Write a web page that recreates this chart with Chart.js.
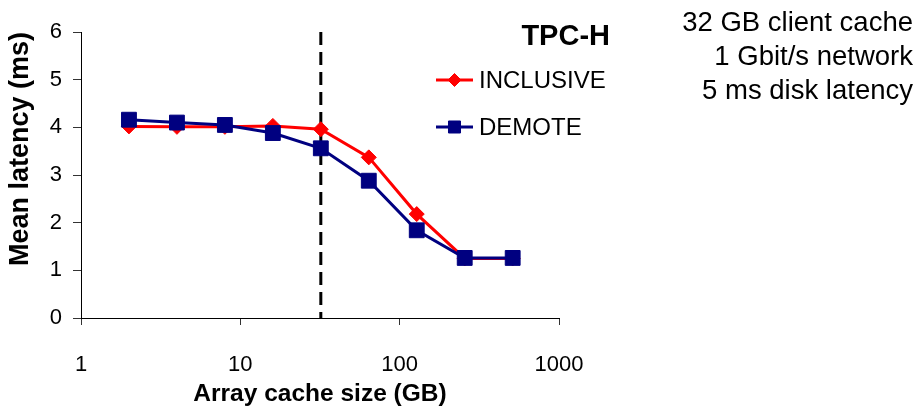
<!DOCTYPE html>
<html lang="en">
<head>
  <meta charset="UTF-8">
  <title>TPC-H mean latency</title>
  <script src="https://cdn.jsdelivr.net/npm/chart.js"></script>
  <style>
      html, body { margin: 0; padding: 0; background: #fff; }
      #wrap { width: 921px; height: 406px; }
  </style>
</head>
<body>
  <div id="wrap"><canvas id="myChart" width="921" height="406"></canvas></div>

  <script>
    // Array cache sizes (GB) and mean latency (ms)
    const cacheSizes = [2, 4, 8, 16, 32, 64, 128, 256, 512];
    const inclusive = [4.02, 4.01, 4.01, 4.03, 3.96, 3.37, 2.18, 1.25, 1.25];
    const demote = [4.16, 4.1, 4.05, 3.88, 3.56, 2.88, 1.84, 1.26, 1.26];

    const xTickValues = [1, 10, 100, 1000];
    const yTickValues = [0, 1, 2, 3, 4, 5, 6];
    const clientCacheGB = 32;   // dashed marker
    const chartTitle = 'TPC-H';
    const noteLines = ['32 GB client cache', '1 Gbit/s network', '5 ms disk latency'];

    const FONT = '"Liberation Sans", Arial, sans-serif';
    Chart.defaults.font.family = FONT;
    Chart.defaults.color = '#000';

    const series = [
      { label: 'INCLUSIVE', data: inclusive, color: '#ff0000', style: 'rectRot', radius: 7.5, order: 1 },
      { label: 'DEMOTE', data: demote, color: '#000080', style: 'rect', radius: 10.5, order: 0 }
    ];

    // dashed vertical line at the client cache size
    const dashLine = {
      id: 'dashLine',
      beforeDatasetsDraw(chart) {
        const { ctx, chartArea, scales } = chart;
        const x = scales.x.getPixelForValue(clientCacheGB);
        ctx.save();
        ctx.strokeStyle = '#000';
        ctx.lineWidth = 3;
        ctx.setLineDash([13, 7]);
        ctx.beginPath();
        ctx.moveTo(x, chartArea.top);
        ctx.lineTo(x, chartArea.bottom);
        ctx.stroke();
        ctx.restore();
      }
    };

    // legend box + notes on the right
    const legendNotes = {
      id: 'legendNotes',
      afterDraw(chart) {
        const ctx = chart.ctx;
        ctx.save();
        ctx.fillStyle = '#000';
        ctx.textBaseline = 'middle';
        ctx.font = 'bold 29px ' + FONT;
        ctx.textAlign = 'right';
        ctx.fillText(chartTitle, 610, 37);

        ctx.font = '24px ' + FONT;
        ctx.textAlign = 'left';
        series.forEach((s, i) => {
          const y = 80 + i * 47;
          ctx.strokeStyle = s.color;
          ctx.lineWidth = 3;
          ctx.beginPath();
          ctx.moveTo(436, y);
          ctx.lineTo(473, y);
          ctx.stroke();
          ctx.fillStyle = s.color;
          ctx.strokeStyle = s.color;
          ctx.lineWidth = 1;
          Chart.helpers.drawPoint(ctx, { pointStyle: s.style, radius: s.style === 'rect' ? 8.5 : 6.5, borderWidth: 1 }, 454.5, y);
          ctx.fillStyle = '#000';
          ctx.fillText(s.label, 479, y + 1);
        });

        ctx.font = '27.5px ' + FONT;
        ctx.textAlign = 'right';
        noteLines.forEach((t, i) => ctx.fillText(t, 913, 23 + i * 34));
        ctx.restore();
      }
    };

    const ctx = document.getElementById('myChart').getContext('2d');
    const myChart = new Chart(ctx, {
      type: 'line',
      data: {
        datasets: series.map(s => ({
          label: s.label,
          data: cacheSizes.map((x, i) => ({ x: x, y: s.data[i] })),
          borderColor: s.color,
          backgroundColor: s.color,
          borderWidth: 3,
          pointStyle: s.style,
          pointRadius: s.radius,
          pointBorderWidth: 1,
          pointBackgroundColor: s.color,
          pointBorderColor: s.color,
          tension: 0,
          order: s.order
        }))
      },
      plugins: [dashLine, legendNotes],
      options: {
        responsive: false,
        animation: false,
        layout: { padding: { left: 0, top: 32, right: 362, bottom: 0 } },
        plugins: {
          legend: { display: false },
          tooltip: { enabled: false }
        },
        scales: {
          x: {
            type: 'logarithmic',
            min: 1,
            max: 1000,
            afterBuildTicks: scale => { scale.ticks = xTickValues.map(v => ({ value: v })); },
            afterFit: scale => { scale.height = 88; },
            border: { display: true, color: '#000', width: 1 },
            grid: { drawOnChartArea: false, drawTicks: true, tickLength: 7, color: '#333' },
            ticks: { padding: 27, font: { size: 22 }, color: '#000', maxRotation: 0, callback: v => String(v) },
            title: { display: true, text: 'Array cache size (GB)', font: { size: 24.5, weight: 'bold', lineHeight: 1 }, padding: { top: 0, bottom: 0 } }
          },
          y: {
            min: 0,
            max: 6,
            afterBuildTicks: scale => { scale.ticks = yTickValues.map(v => ({ value: v })); },
            afterFit: scale => { scale.width = 81; },
            border: { display: true, color: '#000', width: 1 },
            grid: { drawOnChartArea: false, drawTicks: true, tickLength: 8, color: '#333' },
            ticks: { padding: 11, font: { size: 22 }, color: '#000' },
            title: { display: true, text: 'Mean latency (ms)', align: 'end', font: { size: 27, weight: 'bold' }, padding: { top: 4, bottom: 0 } }
          }
        }
      }
    });
  </script>
</body>
</html>
